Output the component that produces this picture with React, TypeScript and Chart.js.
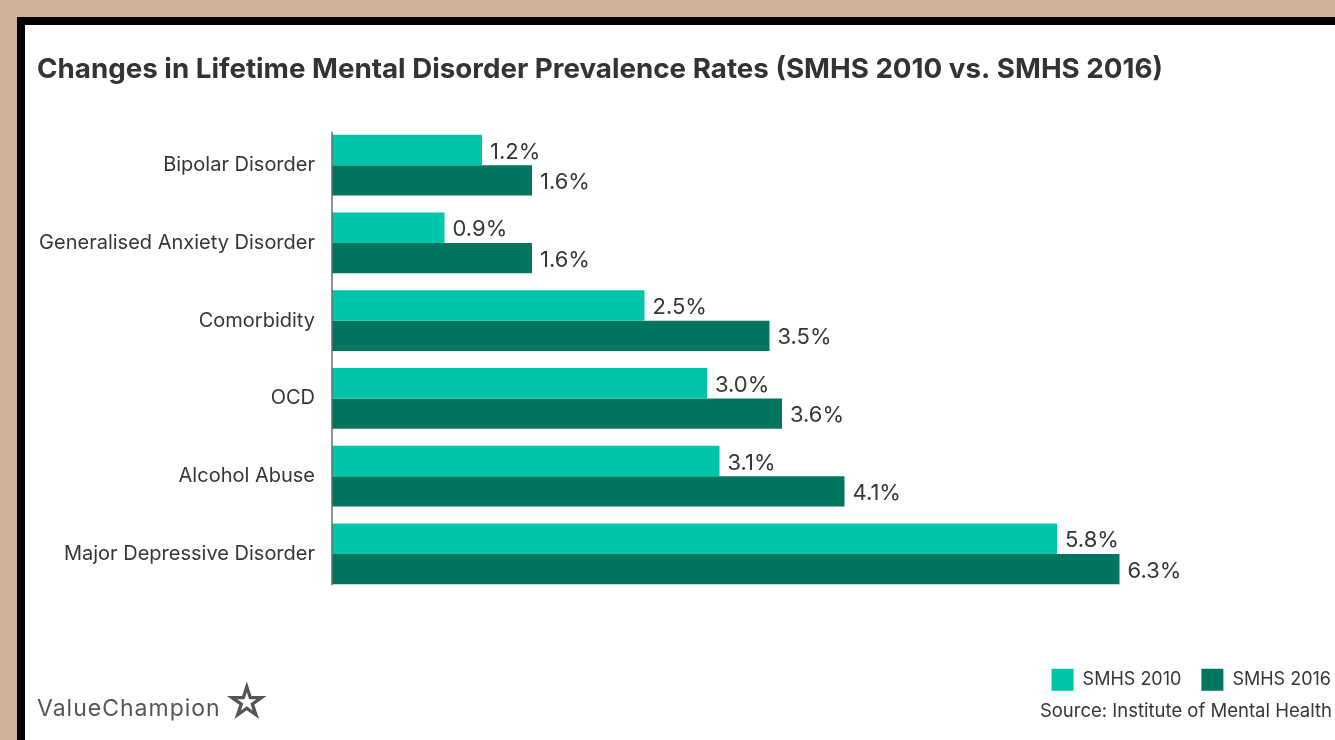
import React, { useEffect, useRef } from "react";
import { Chart, registerables } from "chart.js";

Chart.register(...registerables);

const categories = [
  "Bipolar Disorder",
  "Generalised Anxiety Disorder",
  "Comorbidity",
  "OCD",
  "Alcohol Abuse",
  "Major Depressive Disorder",
];
const smhs2010 = [1.2, 0.9, 2.5, 3.0, 3.1, 5.8];
const smhs2016 = [1.6, 1.6, 3.5, 3.6, 4.1, 6.3];
const seriesLabels = ["SMHS 2010", "SMHS 2016"];
const titleText =
  "Changes in Lifetime Mental Disorder Prevalence Rates (SMHS 2010 vs. SMHS 2016)";
const sourceText = "Source: Institute of Mental Health";

const FONT = "Inter, 'Open Sans', sans-serif";
const TEXT = "#363636";
const C2010 = "#00c4a9";
const C2016 = "#00765f";
const LEGEND_PAD = 20;

const valueLabels = {
  id: "valueLabels",
  afterDatasetsDraw(chart: any) {
    const ctx = chart.ctx;
    ctx.save();
    ctx.font = `22px ${FONT}`;
    ctx.fillStyle = TEXT;
    ctx.textAlign = "left";
    ctx.textBaseline = "middle";
    chart.data.datasets.forEach((ds: any, i: number) => {
      const meta = chart.getDatasetMeta(i);
      meta.data.forEach((bar: any, j: number) => {
        const v = ds.data[j] as number;
        ctx.fillText(`${v.toFixed(1)}%`, bar.x + 8, bar.y + 2);
      });
    });
    ctx.restore();
  },
};

const axisLine = {
  id: "axisLine",
  afterDatasetsDraw(chart: any) {
    const n = chart.data.datasets.length;
    const first = chart.getDatasetMeta(0).data[0];
    const last = chart.getDatasetMeta(n - 1).data[chart.data.labels.length - 1];
    if (!first || !last) return;
    const top = first.y - first.height / 2 - 3;
    const bottom = last.y + last.height / 2 + 1;
    const x = chart.chartArea.left;
    const ctx = chart.ctx;
    ctx.save();
    ctx.strokeStyle = "#6b6b6b";
    ctx.lineWidth = 1.5;
    ctx.beginPath();
    ctx.moveTo(x, top);
    ctx.lineTo(x, bottom);
    ctx.stroke();
    ctx.restore();
  },
};

// shift legend right so the trailing item padding does not push it inward
const legendShift = {
  id: "legendShift",
  afterLayout(chart: any) {
    const lg = chart.legend;
    if (lg) {
      lg.left += LEGEND_PAD - 1;
      lg.right += LEGEND_PAD - 1;
    }
  },
};

function BarChart() {
  const ref = useRef<HTMLCanvasElement | null>(null);
  useEffect(() => {
    if (!ref.current) return;
    const chart = new Chart(ref.current, {
      type: "bar",
      data: {
        labels: categories,
        datasets: [
          {
            label: seriesLabels[0],
            data: smhs2010,
            backgroundColor: C2010,
            barPercentage: 1,
            categoryPercentage: 61 / 78,
            borderWidth: 0,
          },
          {
            label: seriesLabels[1],
            data: smhs2016,
            backgroundColor: C2016,
            barPercentage: 1,
            categoryPercentage: 61 / 78,
            borderWidth: 0,
          },
        ],
      },
      options: {
        indexAxis: "y",
        animation: false,
        responsive: true,
        maintainAspectRatio: false,
        layout: { padding: { left: 12, right: 3, top: 0, bottom: 0 } },
        scales: {
          x: {
            type: "linear",
            min: 0,
            max: 8,
            grid: { display: false, drawTicks: false },
            border: { display: false },
            ticks: { display: false },
            afterFit: (s: any) => {
              s.height = 56;
            },
          },
          y: {
            type: "category",
            grid: { display: false, drawTicks: false },
            border: { display: false },
            ticks: {
              color: TEXT,
              font: { family: FONT, size: 20 },
              padding: 17,
            },
            afterFit: (s: any) => {
              s.width = 295;
            },
          },
        },
        plugins: {
          title: {
            display: true,
            text: titleText,
            align: "start",
            color: "#333333",
            font: { family: FONT, size: 27.75, weight: "bold", lineHeight: 1.2 },
            padding: { top: 28, bottom: 40 },
          },
          subtitle: {
            display: true,
            text: sourceText,
            position: "bottom",
            align: "end",
            color: TEXT,
            font: { family: FONT, size: 18.5, lineHeight: 1.2 },
            padding: { top: 0, bottom: 17 },
          },
          legend: {
            display: true,
            position: "bottom",
            align: "end",
            labels: {
              boxWidth: 22,
              boxHeight: 22,
              padding: LEGEND_PAD,
              color: TEXT,
              font: { family: FONT, size: 18 },
            },
          },
          tooltip: { enabled: false },
        },
      },
      plugins: [valueLabels, axisLine, legendShift],
    });
    return () => chart.destroy();
  }, []);
  return <canvas ref={ref} />;
}

export default function App() {
  return (
    <div
      style={{
        position: "fixed",
        left: 0,
        top: 0,
        width: 1335,
        height: 740,
        background: "#cdb395",
        overflow: "hidden",
      }}
    >
      <div
        style={{
          position: "absolute",
          left: 17,
          top: 17,
          width: 1310,
          height: 715,
          borderTop: "8px solid #000",
          borderLeft: "8px solid #000",
          background: "#fff",
        }}
      >
        <div style={{ position: "absolute", left: 0, top: 0, width: 1310, height: 715 }}>
          <BarChart />
        </div>
        <div
          style={{
            position: "absolute",
            left: 12,
            top: 659,
            fontFamily: FONT,
            fontSize: 23,
            lineHeight: "30px",
            color: "#555",
            whiteSpace: "nowrap",
            letterSpacing: "1px",
          }}
        >
          ValueChampion
          <span style={{ fontSize: 46, marginLeft: 2, position: "relative", top: 3, letterSpacing: 0 }}>☆</span>
        </div>
      </div>
    </div>
  );
}
